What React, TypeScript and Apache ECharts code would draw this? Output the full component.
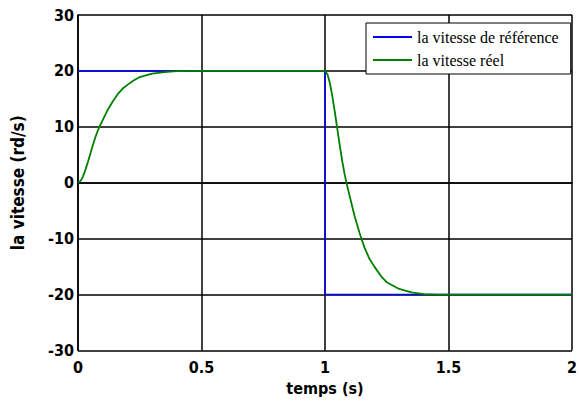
import React, { useEffect, useRef } from "react";
import * as echarts from "echarts";

// Speed reference (step 20 -> -20 at t = 1 s)
const refTime = [0, 1, 1, 2];
const refSpeed = [20, 20, -20, -20];

// Measured speed response
const realTime = [
  0, 0.01, 0.02, 0.03, 0.04, 0.05, 0.06, 0.07, 0.08, 0.09, 0.1, 0.12, 0.14, 0.16, 0.18, 0.2, 0.225, 0.25, 0.3, 0.35, 0.4, 0.5,
  1.0, 1.01, 1.02, 1.03, 1.04, 1.05, 1.06, 1.07, 1.08, 1.09, 1.1, 1.12, 1.14, 1.16, 1.18, 1.2, 1.225, 1.25, 1.3, 1.35, 1.4, 1.45, 1.5, 2.0,
];
const realSpeed = [
  0, 0.3, 1.1, 2.3, 3.7, 5.2, 6.7, 8.1, 9.3, 10.3, 11.2, 13.0, 14.5, 15.8, 16.8, 17.5, 18.3, 18.9, 19.5, 19.8, 19.95, 20,
  20, 19.4, 17.8, 15.4, 12.6, 9.6, 6.6, 3.8, 1.4, -0.6, -2.4, -6.0, -9.0, -11.6, -13.6, -15.0, -16.6, -17.8, -19.0, -19.6, -19.9, -20, -20, -20,
];

const xTicks = { min: 0, max: 2, interval: 0.5 };
const yTicks = { min: -30, max: 30, interval: 10 };

const seriesNames = ["la vitesse de référence", "la vitesse réel"];

const labelFont = "'DejaVu Sans Condensed', 'DejaVu Sans', sans-serif";

export default function App() {
  const ref = useRef<HTMLDivElement>(null);

  useEffect(() => {
    if (!ref.current) return;
    document.body.style.margin = "0";
    const chart = echarts.init(ref.current, undefined, { renderer: "svg" });
    const zip = (xs: number[], ys: number[]) => xs.map((x, i) => [x, ys[i]]);
    chart.setOption({
      animation: false,
      backgroundColor: "#ffffff",
      grid: { left: 78, right: 3, top: 15, bottom: 52.5 },
      legend: {
        orient: "vertical",
        left: 366,
        top: 23,
        padding: [5, 12, 5, 7],
        itemGap: 5,
        itemWidth: 39,
        itemHeight: 2,
        icon: "rect",
        backgroundColor: "#ffffff",
        borderColor: "#000000",
        borderWidth: 1,
        borderRadius: 0,
        textStyle: {
          fontFamily: "'Liberation Serif', serif",
          fontSize: 16,
          color: "#000000",
          lineHeight: 18,
        },
        data: seriesNames,
      },
      xAxis: {
        type: "value",
        min: xTicks.min,
        max: xTicks.max,
        interval: xTicks.interval,
        name: "temps (s)",
        nameLocation: "middle",
        nameGap: 30,
        nameTextStyle: { fontFamily: labelFont, fontWeight: "bold", fontSize: 16, color: "#000" },
        axisLine: { lineStyle: { color: "#000", width: 1.5 } },
        axisTick: { show: false },
        axisLabel: {
          fontFamily: labelFont,
          fontWeight: "bold",
          fontSize: 16,
          color: "#000",
          margin: 9,
          showMaxLabel: true,
          formatter: (v: number) => String(v),
        },
        splitLine: { show: true, lineStyle: { color: "#000", width: 1.5 } },
      },
      yAxis: {
        type: "value",
        min: yTicks.min,
        max: yTicks.max,
        interval: yTicks.interval,
        name: "la vitesse (rd/s)",
        nameLocation: "middle",
        nameGap: 52,
        nameRotate: 90,
        nameTextStyle: { fontFamily: labelFont, fontWeight: "bold", fontSize: 17, color: "#000" },
        axisLine: { show: true, lineStyle: { color: "#000", width: 1.5 } },
        axisTick: { show: false },
        axisLabel: {
          fontFamily: labelFont,
          fontWeight: "bold",
          fontSize: 16,
          color: "#000",
          margin: 4,
        },
        splitLine: { show: true, lineStyle: { color: "#000", width: 1.5 } },
      },
      series: [
        {
          name: seriesNames[0],
          type: "line",
          data: zip(refTime, refSpeed),
          showSymbol: false,
          symbol: "none",
          lineStyle: { color: "#0000ff", width: 1.5 },
          itemStyle: { color: "#0000ff" },
        },
        {
          name: seriesNames[1],
          type: "line",
          data: zip(realTime, realSpeed),
          showSymbol: false,
          symbol: "none",
          lineStyle: { color: "#008000", width: 1.8 },
          itemStyle: { color: "#008000" },
        },
      ],
    });
    return () => chart.dispose();
  }, []);

  return <div ref={ref} style={{ width: 580, height: 403 }} />;
}
